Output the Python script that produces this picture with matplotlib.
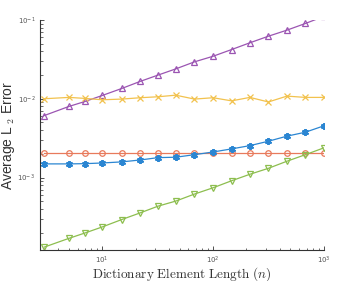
import matplotlib
matplotlib.use('Agg')
import matplotlib.pyplot as plt

# Dictionary element lengths
n = [3, 5, 7, 10, 15, 22, 32, 46, 68, 100, 147, 215, 316, 464, 681, 1000]

# Average L2 error for each method
err_purple = [0.00612, 0.00798, 0.00924, 0.0110, 0.0135, 0.0166, 0.0200, 0.0239,
              0.0294, 0.0346, 0.0421, 0.0513, 0.0622, 0.0742, 0.0902, 0.111]
err_yellow = [0.0100, 0.0104, 0.0101, 0.0097, 0.0099, 0.0103, 0.0106, 0.0111,
              0.0099, 0.0103, 0.0094, 0.0104, 0.0091, 0.0108, 0.0104, 0.0104]
err_orange = [0.00207, 0.00207, 0.00207, 0.00207, 0.00207, 0.00207, 0.00207, 0.00207,
              0.00207, 0.00207, 0.00207, 0.00207, 0.00207, 0.00207, 0.00207, 0.00207]
err_blue = [0.00149, 0.00149, 0.00150, 0.00153, 0.00158, 0.00167, 0.00179, 0.00181,
            0.00195, 0.00211, 0.00231, 0.00254, 0.00289, 0.00335, 0.00376, 0.00453]
err_green = [0.000131, 0.000169, 0.000198, 0.000236, 0.000293, 0.000356, 0.000434, 0.000502,
             0.000617, 0.000741, 0.000910, 0.00110, 0.00131, 0.00161, 0.00195, 0.00238]

plt.rcParams['mathtext.fontset'] = 'cm'
plt.rcParams['xtick.direction'] = 'in'
plt.rcParams['ytick.direction'] = 'in'

fig = plt.figure(figsize=(3.37, 2.81), dpi=100)
ax = fig.add_axes([0.119, 0.110, 0.842, 0.819])

style = dict(linewidth=0.9, markersize=4, markeredgewidth=0.9, fillstyle='none')
ax.plot(n, err_purple, color='#9B55B2', marker='^', **style)
ax.plot(n, err_yellow, color='#F2C24E', marker='x', **style)
ax.plot(n, err_orange, color='#E87A5C', marker='o', **style)
ax.plot(n, err_blue, color='#2B86D2', marker=(6, 2, 0), linewidth=0.9, markersize=5,
        markeredgewidth=1.4)
ax.plot(n, err_green, color='#8DBE4F', marker='v', **style)

ax.set_xscale('log')
ax.set_yscale('log')
ax.set_xlim(2.75, 1000)
ax.set_ylim(1.2e-4, 0.1)

ax.spines['top'].set_visible(False)
ax.spines['right'].set_visible(False)
for s in ['left', 'bottom']:
    ax.spines[s].set_color('#333333')
    ax.spines[s].set_linewidth(0.8)

ax.tick_params(which='major', length=3, width=0.6, labelsize=5, colors='#333333',
               labelcolor='#555555')
ax.tick_params(which='minor', length=1.8, width=0.5, colors='#333333')

ax.set_xlabel(r'$\mathrm{Dictionary\ Element\ Length}\ (n)$', fontsize=9.5, color='#333333')
ax.xaxis.set_label_coords(0.5, -0.064)
ax.set_ylabel(r'Average L$_{\ 2}$ Error', fontsize=10, family='Liberation Sans',
              color='#333333')
ax.yaxis.set_label_coords(-0.082, 0.5)

fig.savefig('out.png', dpi=100)
